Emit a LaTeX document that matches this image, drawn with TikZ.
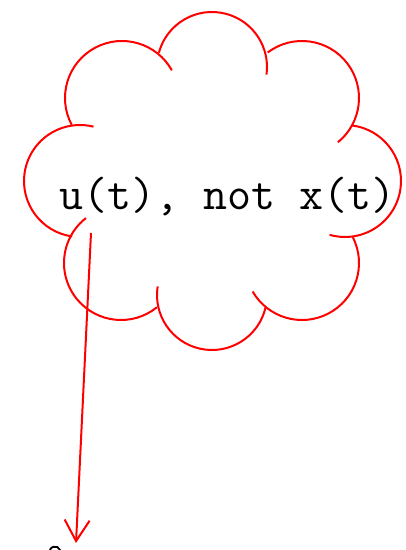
\documentclass[tikz,border=0pt]{standalone}
\usetikzlibrary{arrows.meta}
\begin{document}
\begin{tikzpicture}[x=1pt,y=1pt,
  lobe/.style={draw=red, line width=2pt},
  callout/.style={draw=red, line width=2pt, -{Straight Barb[length=21pt,width=25pt,line width=2pt]}},
  label/.style={font=\ttfamily\fontsize{46.6}{46.6}\selectfont, inner sep=0pt, anchor=base west}]
\useasboundingbox (0,0) rectangle (406,550);
% cloud outline: one arc per lobe, each overlapping the next a little
\draw[lobe] (122,452) ++(208:57) arc[start angle=208, end angle=29, radius=57];
\draw[lobe] (212,483) ++(165:55) arc[start angle=165, end angle=-8, radius=55];
\draw[lobe] (302,452) ++(127:57) arc[start angle=127, end angle=-51, radius=57];
\draw[lobe] (345,369) ++(83:56) arc[start angle=83, end angle=-106, radius=56];
\draw[lobe] (302,287) ++(27:57) arc[start angle=27, end angle=-150, radius=57];
\draw[lobe] (212,255) ++(-13:55) arc[start angle=-13, end angle=-189, radius=55];
\draw[lobe] (121,287) ++(-51:57) arc[start angle=-51, end angle=-232, radius=57];
\draw[lobe] (80,369) ++(-98:56) arc[start angle=-98, end angle=-284, radius=56];
% text inside the cloud
\node[label] (txt) at (59,340) {u(t), not x(t)};
% pointer out of the cloud
\coordinate (from) at (91,317);
\coordinate (to) at (76,7);
\draw[callout] (from) -- (to);
% top of a glyph below the frame
\draw[black, line width=1.8pt] (55,-2) ++(20:5.5) arc[start angle=20, end angle=160, radius=5.5];
\end{tikzpicture}
\end{document}
